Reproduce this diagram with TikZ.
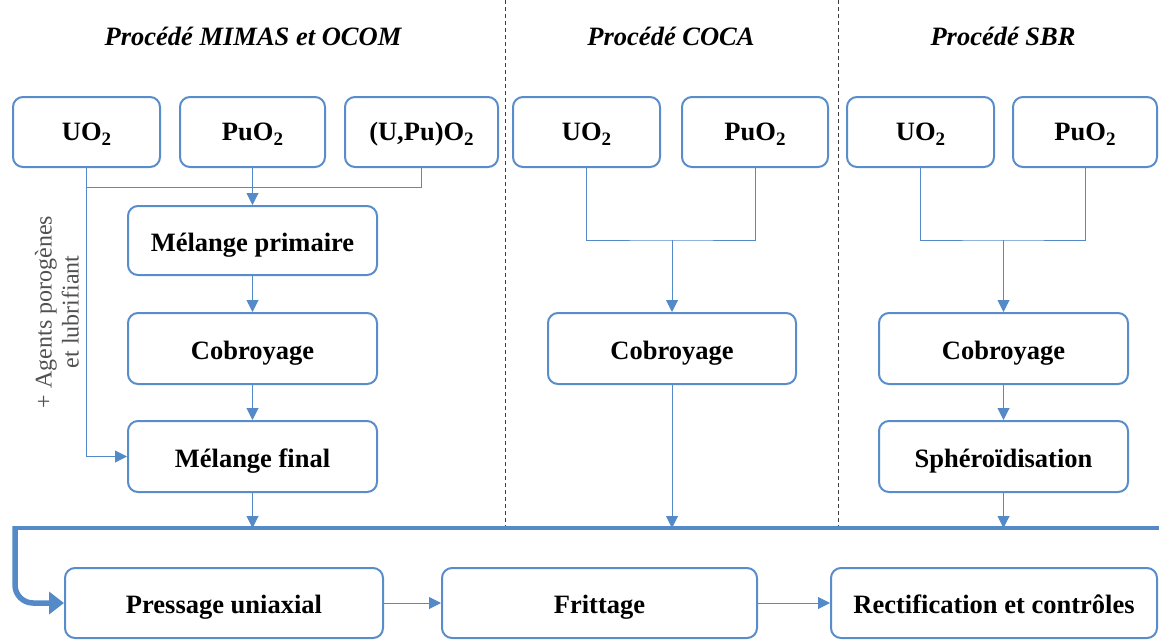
\documentclass[tikz,border=0pt]{standalone}
\usepackage{fontspec}
\setmainfont{Liberation Serif}
\usetikzlibrary{arrows.meta}
\definecolor{bblue}{RGB}{88,140,202}
\definecolor{lblue}{RGB}{84,138,200}
\definecolor{dgray}{RGB}{60,60,60}
\definecolor{lgray}{RGB}{80,80,80}
\newcommand\subtwo{\raisebox{-5pt}{\fontsize{19}{19}\selectfont 2}}
\begin{document}
\begin{tikzpicture}[x=1pt,y=-1pt,
  procbox/.style={draw=bblue, line width=2, rounded corners=10, inner sep=0,
    font=\bfseries\fontsize{26.5}{30}\selectfont, minimum height=70,
    text height=21, text depth=0},
  topbox/.style={procbox, text height=16},
  arr/.style={draw=lblue, line width=1, -{Triangle[length=12,width=12]}},
  conn/.style={draw=lblue, line width=1},
  bus/.style={draw=lblue, line width=4},
  sep/.style={draw=dgray, line width=1, dash pattern=on 4 off 3},
  ttl/.style={font=\bfseries\itshape\fontsize{26.5}{30}\selectfont, inner sep=0, anchor=base}]
\useasboundingbox (0,0) rectangle (1159,640);
% titles
\node[ttl] (t1) at (253,45) {Procédé MIMAS et OCOM};
\node[ttl] (t2) at (671,45) {Procédé COCA};
\node[ttl] (t3) at (1003,45) {Procédé SBR};
% separators
\coordinate (s1t) at (505,0); \coordinate (s1b) at (505,528);
\coordinate (s2t) at (838,0); \coordinate (s2b) at (838,528);
\draw[sep] (s1t) -- (s1b);
\draw[sep] (s2t) -- (s2b);
% MIMAS
\node[topbox, minimum width=147] (mu) at (86.5,132) {UO\subtwo};
\node[topbox, minimum width=145] (mp) at (252.5,132) {PuO\subtwo};
\node[topbox, minimum width=153] (mupu) at (421.5,132) {(U,Pu)O\subtwo};
\node[procbox, minimum width=249, minimum height=69] (mprim) at (252.5,240.5) {Mélange primaire};
\node[procbox, minimum width=249, minimum height=71] (mcob) at (252.5,348.5) {Cobroyage};
\node[procbox, minimum width=249, minimum height=71] (mfin) at (252.5,456.5) {Mélange final};
% COCA
\node[topbox, minimum width=147] (cu) at (586.5,132) {UO\subtwo};
\node[topbox, minimum width=146] (cp) at (755,132) {PuO\subtwo};
\node[procbox, minimum width=248, minimum height=71] (ccob) at (672,348.5) {Cobroyage};
% SBR
\node[topbox, minimum width=147] (su) at (920.5,132) {UO\subtwo};
\node[topbox, minimum width=144] (sp) at (1085,132) {PuO\subtwo};
\node[procbox, minimum width=249, minimum height=71] (scob) at (1003.5,348.5) {Cobroyage};
\node[procbox, minimum width=249, minimum height=71] (ssph) at (1003.5,456.5) {Sphéroïdisation};
% bottom row
\node[procbox, minimum width=318] (press) at (224,603) {Pressage uniaxial};
\node[procbox, minimum width=315] (fritt) at (599.5,603) {Frittage};
\node[procbox, minimum width=326] (rect) at (994,603) {Rectification et contrôles};
% side label
\node[rotate=90, align=center, text=lgray, font=\fontsize{24}{27}\selectfont, inner sep=0] (lab) at (57,312) {+ Agents porogènes\\et lubrifiant};
% MIMAS connectors
\coordinate (mj) at (252.5,187);
\draw[conn] (mu.south) -- (mu.south |- mj) -- (mupu.south |- mj) -- (mupu.south);
\draw[arr] (mp.south) -- (mprim.north);
\draw[arr] (mu.south) |- (mfin.west);
\draw[arr] (mprim.south) -- (mcob.north);
\draw[arr] (mcob.south) -- (mfin.north);
% COCA connectors
\coordinate (cj) at (672,240);
\draw[conn] (cu.south) |- (cj) -| (cp.south);
\draw[arr] (cj) -- (ccob.north);
% SBR connectors
\coordinate (sj) at (1003.5,240);
\draw[conn] (su.south) |- (sj) -| (sp.south);
\draw[arr] (sj) -- (scob.north);
\draw[arr] (scob.south) -- (ssph.north);
% bus
\coordinate (busR) at (1159,528);
\coordinate (busL) at (12.5,528);
\coordinate (busC) at (15,526);
\draw[arr] (mfin.south) -- (mfin.south |- busR);
\draw[arr] (ccob.south) -- (ccob.south |- busR);
\draw[arr] (ssph.south) -- (ssph.south |- busR);
\draw[bus] (busR) -- (busL);
\draw[bus, line width=5.5, rounded corners=18, -{Triangle[length=15,width=22]}] (busC) |- (press.west);
% bottom arrows
\draw[arr] (press.east) -- (fritt.west);
\draw[arr] (fritt.east) -- (rect.west);
\end{tikzpicture}
\end{document}
